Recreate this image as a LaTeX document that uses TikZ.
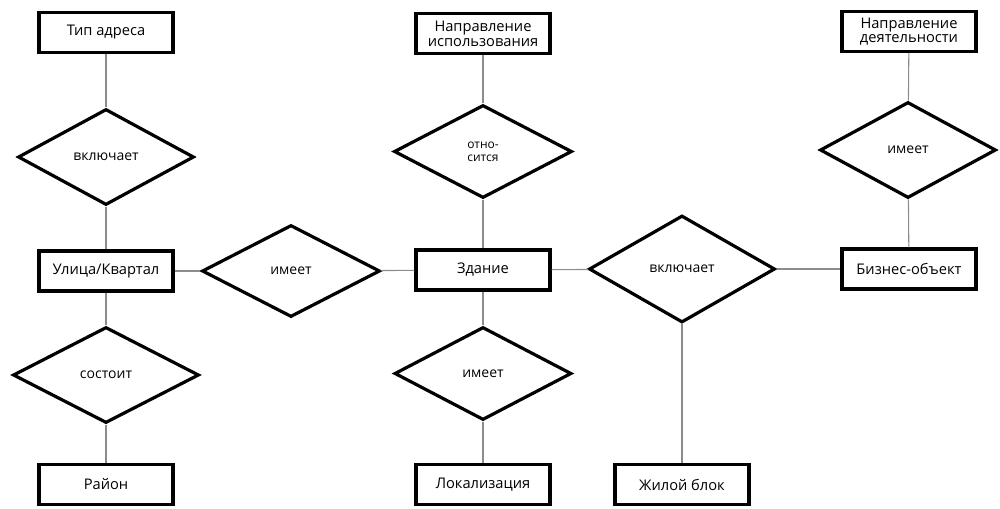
\documentclass[tikz,border=0pt]{standalone}
\usepackage{fontspec}
\setmainfont{Open Sans}
\usetikzlibrary{shapes.geometric}
\begin{document}
\begin{tikzpicture}[x=0.75pt,y=-0.75pt,
  entity/.style={draw=black,line width=2.4pt,fill=white,minimum width=100.5pt,minimum height=30pt,
    inner sep=1pt,align=center,font=\fontsize{11}{12}\selectfont},
  rel/.style={diamond,draw=black,line width=2.4pt,fill=white,inner sep=0pt,align=center,
    font=\fontsize{10.5}{11}\selectfont},
  link/.style={draw=black!45,line width=0.8pt}]
\useasboundingbox (0,0) rectangle (1000,508);
% entities
\node[entity] (typ)  at (106,32.5)  {Тип адреса};
\node[entity] (nisp) at (483,33.5)  {Направление\\[-1pt]использования};
\node[entity] (ndey) at (909,31.5)  {Направление\\[-1pt]деятельности};
\node[entity] (ul)   at (106,271)   {Улица/Квартал};
\node[entity] (zd)   at (483,270)   {Здание};
\node[entity] (biz)  at (909,269)   {Бизнес-объект};
\node[entity] (ray)  at (106,484.5) {Район};
\node[entity] (lok)  at (483,484.5) {Локализация};
\node[entity] (zhb)  at (682,484.5) {Жилой блок};
% relationships
\node[rel,minimum width=132pt,minimum height=72pt]      (rvkl) at (106,157)   {включает};
\node[rel,minimum width=133.5pt,minimum height=69pt]    (rim1) at (291,271)   {имеет};
\node[rel,minimum width=133.5pt,minimum height=69.75pt,font=\fontsize{9}{10}\selectfont] (rotn) at (483,151.5) {отно-\\сится};
\node[rel,minimum width=139.5pt,minimum height=80.25pt] (rvk2) at (682,269)   {включает};
\node[rel,minimum width=132pt,minimum height=72pt]      (rim2) at (908,150)   {имеет};
\node[rel,minimum width=139.5pt,minimum height=72pt]    (rsos) at (106,375)   {состоит};
\node[rel,minimum width=132.75pt,minimum height=69.75pt] (rim3) at (483,373.5) {имеет};
% connectors
\draw[link] (typ) -- (rvkl);
\draw[link] (rvkl) -- (ul);
\draw[link] (ul) -- (rsos);
\draw[link] (rsos) -- (ray);
\draw[link] (ul) -- (rim1);
\draw[link] (rim1) -- (zd);
\draw[link] (nisp) -- (rotn);
\draw[link] (rotn) -- (zd);
\draw[link] (zd) -- (rim3);
\draw[link] (rim3) -- (lok);
\draw[link] (zd) -- (rvk2);
\draw[link] (rvk2) -- (biz);
\draw[link] (rvk2) -- (zhb);
\draw[link] (ndey) -- (rim2);
\draw[link] (rim2) -- (biz);
\end{tikzpicture}
\end{document}
